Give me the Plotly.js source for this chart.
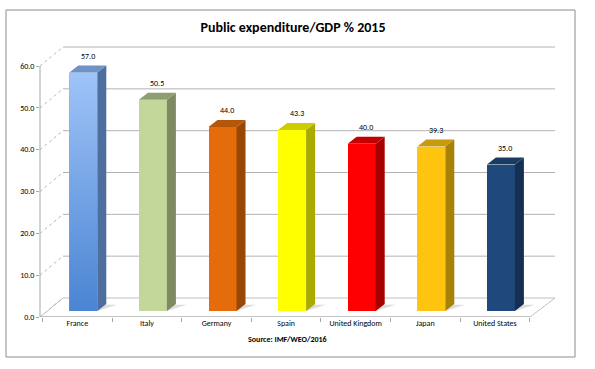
<!DOCTYPE html>
<html>
<head>
<meta charset="utf-8">
<script src="https://cdn.plot.ly/plotly-3.0.1.min.js"></script>
<style>html,body{margin:0;padding:0;background:#fff;}#chart{width:595px;height:369px;}</style>
</head>
<body>
<div id="chart"></div>
<script>
// ---- data ----
const categories = ["France", "Italy", "Germany", "Spain", "United Kingdom", "Japan", "United States"];
const values = [57.0, 50.5, 44.0, 43.3, 40.0, 39.3, 35.0];
const yTicks = [0, 10, 20, 30, 40, 50, 60];
const frontColors = ["#7eabe8", "#c4d79b", "#e46c0a", "#ffff00", "#ff0000", "#ffc40f", "#1f497d"];
const sideColors  = ["#4e6f9d", "#7e8a62", "#974807", "#aaaa00", "#a80000", "#a6820a", "#142f51"];
const topColors   = ["#6f92c6", "#8f9e6e", "#b55608", "#cccc00", "#c40000", "#c79b0b", "#1a3b64"];
const franceGradient = ["#4a84d2", "#9fc4f8"];   // bottom -> top
const titleText = "Public expenditure/GDP % 2015";
const sourceText = "Source: IMF/WEO/2016";

// ---- geometry (layout) ----
const W = 595, H = 369;
const L = 40, R = 556, T = 40, B = 317;          // plot area in px
const pxPerUnitY = 4.183;
const catSpacing = 69.6;
const firstCenterPx = 77.3;
const xr0 = -(firstCenterPx - L) / catSpacing;
const xr1 = xr0 + (R - L) / catSpacing;
const barShiftPx = 6;
const barW = 28 / catSpacing;
const barOff = -barW / 2 + barShiftPx / catSpacing;
const dX = 9 / catSpacing, dY = 7 / pxPerUnitY;
const wallDY = 19 / pxPerUnitY;
const y2lo = -barShiftPx / pxPerUnitY;
const y2hi = y2lo + (B - T) / pxPerUnitY;
const yHi = (B - T) / pxPerUnitY;
const px2paper = px => (px - L) / (R - L);
const py2paper = py => (B - py) / (B - T);
const backL = px2paper(63), backR = px2paper(555), frontR = px2paper(530);

const font = "Carlito, Calibri, 'Liberation Sans Narrow', 'Liberation Sans', Arial, sans-serif";
const xs = categories.map((c, i) => i);

const shapes = [];
shapes.push({type: "rect", xref: "paper", yref: "paper", x0: px2paper(6), x1: px2paper(575), y0: py2paper(10), y1: py2paper(357), line: {color: "#8c8c8c", width: 1}, fillcolor: "rgba(0,0,0,0)", layer: "below"});
shapes.push({type: "path", xref: "paper", yref: "y", layer: "below",
  path: `M ${0},0 L ${frontR},0 L ${backR},${wallDY} L ${backL},${wallDY} Z`,
  line: {color: "#c0c0c0", width: 1}, fillcolor: "#ffffff"});
shapes.push({type: "line", xref: "paper", yref: "y", layer: "below", x0: 0, x1: frontR, y0: 0, y1: 0, line: {color: "#a6a6a6", width: 1}});
yTicks.forEach(v => {
  if (v > 0) shapes.push({type: "line", xref: "paper", yref: "y", layer: "below", x0: backL, x1: backR, y0: v + wallDY, y1: v + wallDY, line: {color: "#b3b3b3", width: 1}});
  shapes.push({type: "line", xref: "paper", yref: "y", layer: "below", x0: 0, x1: backL, y0: v, y1: v + wallDY, line: {color: "#b8b8b8", width: 1, dash: "dot"}});
});
shapes.push({type: "line", xref: "paper", yref: "y", layer: "below", x0: 0, x1: 0, y0: 0, y1: yTicks[yTicks.length - 1], line: {color: "#a6a6a6", width: 1}});

values.forEach((v, i) => {
  const xl = xs[i] + barOff, xrr = xl + barW;
  shapes.push({type: "path", xref: "x", yref: "y2", layer: "below",
    path: `M ${xrr},0 L ${xrr + dX * 2.2},${dY * 0.9} L ${xl + dX * 2.2},${dY * 0.9} L ${xl},0 Z`,
    line: {width: 0}, fillcolor: "rgba(120,120,120,0.25)"});
  shapes.push({type: "path", xref: "x", yref: "y2", layer: "above",
    path: `M ${xrr},0 L ${xrr},${v} L ${xrr + dX},${v + dY} L ${xrr + dX},${dY} Z`,
    line: {width: 0}, fillcolor: sideColors[i]});
  shapes.push({type: "path", xref: "x", yref: "y2", layer: "above",
    path: `M ${xl},${v} L ${xrr},${v} L ${xrr + dX},${v + dY} L ${xl + dX},${v + dY} Z`,
    line: {width: 0}, fillcolor: topColors[i]});
});

const annotations = values.map((v, i) => ({
  x: xs[i] + barOff + barW / 2 + dX / 2, y: v + dY, xref: "x", yref: "y2",
  text: v.toFixed(1), showarrow: false, yanchor: "middle", yshift: 10,
  font: {family: font, size: 8, color: "#000000"}
}));
annotations.push({xref: "paper", yref: "paper", x: px2paper(287), y: py2paper(339), text: "<b>" + sourceText + "</b>",
  showarrow: false, xanchor: "center", yanchor: "middle", font: {family: font, size: 8, color: "#000"}});

// France front face with gradient (drawn over its bar)
const fx0 = xs[0] + barOff, fx1 = fx0 + barW;
const traces = [
  {type: "bar", x: xs, y: values, xaxis: "x", yaxis: "y2", width: barW, offset: barOff,
   marker: {color: frontColors, line: {width: 0}}, hoverinfo: "skip"},
  {type: "scatter", x: [fx0, fx1, fx1, fx0, fx0], y: [0, 0, values[0], values[0], 0], xaxis: "x", yaxis: "y2",
   mode: "lines", line: {width: 0}, fill: "toself",
   fillgradient: {type: "vertical", colorscale: [[0, franceGradient[0]], [1, franceGradient[1]]]},
   hoverinfo: "skip", showlegend: false},
  {type: "scatter", x: [xs[0]], y: [0], xaxis: "x2", yaxis: "y", mode: "markers", marker: {opacity: 0}, hoverinfo: "skip", showlegend: false}
];

const layout = {
  width: W, height: H,
  margin: {l: L, r: W - R, t: T, b: H - B, pad: 0},
  paper_bgcolor: "#ffffff", plot_bgcolor: "rgba(0,0,0,0)",
  showlegend: false,
  title: {text: "<b>" + titleText + "</b>", x: 293 / W, xanchor: "center", y: 1 - 27 / H, yanchor: "middle", font: {family: font, size: 14, color: "#000"}},
  xaxis: {range: [xr0, xr1], tickvals: xs, ticktext: categories, ticks: "", showgrid: false, zeroline: false, showline: false,
    tickfont: {family: font, size: 8, color: "#000"}, fixedrange: true},
  xaxis2: {overlaying: "x", range: [xr0, xr1], tickvals: xs.map(i => i - 0.5).concat([xs.length - 0.5]), showticklabels: false,
    ticks: "outside", ticklen: 4, tickcolor: "#a6a6a6", showgrid: false, zeroline: false, showline: false, side: "bottom", anchor: "y"},
  yaxis: {range: [0, yHi], tickvals: yTicks, ticktext: yTicks.map(v => v.toFixed(1)), ticks: "outside", ticklen: 3, tickcolor: "#a6a6a6",
    showgrid: false, zeroline: false, showline: false, tickfont: {family: font, size: 8, color: "#000"}},
  yaxis2: {overlaying: "y", range: [y2lo, y2hi], visible: false, showgrid: false, zeroline: false},
  bargap: 0,
  shapes: shapes,
  annotations: annotations
};

Plotly.newPlot("chart", traces, layout, {displayModeBar: false, staticPlot: true});
</script>
</body>
</html>
